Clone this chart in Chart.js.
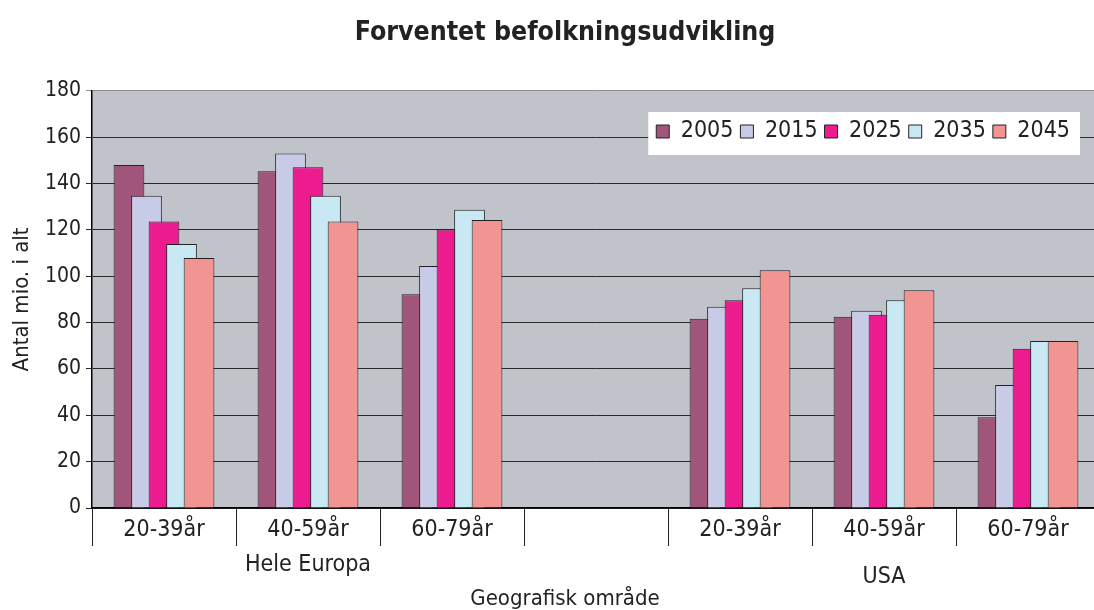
<!DOCTYPE html>
<html>
<head>
<meta charset="utf-8">
<script src="https://cdn.jsdelivr.net/npm/chart.js@4/dist/chart.umd.min.js"></script>
<style>
  html, body { margin: 0; padding: 0; background: #fff; overflow: hidden; }
  canvas { display: block; }
</style>
</head>
<body>
<canvas id="chart" width="1130" height="610"></canvas>
<script>
const FONT = "'DejaVu Sans Condensed', 'Liberation Sans Narrow', 'DejaVu Sans', sans-serif";

const categories = ['20-39år', '40-59år', '60-79år', '', '20-39år', '40-59år', '60-79år'];
const groupLabels = ['Hele Europa', 'USA'];
const years = ['2005', '2015', '2025', '2035', '2045'];
const yTicks = [0, 180, 20];

const v2005 = [148, 145.3, 92.2, null, 81.6, 82.5, 39.1];
const v2015 = [134.7, 153, 104.4, null, 86.8, 85.1, 53.1];
const v2025 = [123.6, 147, 120.2, null, 89.6, 83.4, 68.7];
const v2035 = [113.9, 134.7, 128.7, null, 94.8, 89.6, 72.1];
const v2045 = [107.9, 123.6, 124.3, null, 102.6, 93.9, 72.1];

const colors = ['#a2557b', '#c8cbe7', '#ec1c8f', '#c8e8f3', '#f19593'];
const series = [v2005, v2015, v2025, v2035, v2045];

// gray plot background
const plotBg = {
  id: 'plotBg',
  beforeDraw(chart) {
    const a = chart.chartArea, ctx = chart.ctx;
    ctx.save();
    ctx.fillStyle = '#c0c3ca';
    ctx.fillRect(a.left, a.top, a.width, a.height);
    ctx.restore();
  }
};

// draw datasets first-to-last so later years sit on top (excel overlap)
const forwardDraw = {
  id: 'forwardDraw',
  beforeDatasetsDraw(chart) {
    const a = chart.chartArea, ctx = chart.ctx;
    chart.getSortedVisibleDatasetMetas().forEach(meta => {
      ctx.save();
      ctx.beginPath();
      ctx.rect(a.left, a.top, a.width, a.height);
      ctx.clip();
      meta.controller.draw();
      ctx.restore();
    });
    return false;
  }
};

// move the legend into the plot, on a white box
const legendBox = {
  id: 'legendBox',
  afterLayout(chart) {
    const lg = chart.legend;
    const dx = 1077 - lg.right, dy = 113 - lg.top;
    lg.left += dx; lg.right += dx;
    lg.top += dy; lg.bottom += dy;
  },
  afterDraw(chart) {
    const lg = chart.legend, ctx = chart.ctx;
    const pad = lg.options.labels.padding;
    const size = lg.options.labels.font.size;
    const x0 = lg.right - lg.lineWidths[0] - 8;
    const x1 = lg.right - pad + 10;
    const rowTop = lg.top + pad;
    ctx.save();
    ctx.fillStyle = '#fff';
    ctx.fillRect(x0, rowTop - 8, x1 - x0, size + 20);
    ctx.restore();
    lg.draw();
  }
};

new Chart(document.getElementById('chart'), {
  type: 'bar',
  data: {
    labels: categories,
    datasets: years.map((y, i) => ({
      label: y,
      data: series[i],
      xAxisID: 'x',
      backgroundColor: colors[i],
      borderColor: '#222',
      borderWidth: 1,
      categoryPercentage: 0.608,
      barPercentage: 1.754
    }))
  },
  options: {
    responsive: false,
    animation: false,
    layout: { padding: { left: 30, right: 30, top: 0, bottom: 0 } },
    plugins: {
      title: {
        display: true,
        text: 'Forventet befolkningsudvikling',
        color: '#222',
        font: { family: FONT, size: 26.5, weight: 'bold', lineHeight: 1.2 },
        padding: { top: 17, bottom: 2 }
      },
      subtitle: {
        display: true,
        position: 'bottom',
        text: 'Geografisk område',
        color: '#222',
        font: { family: FONT, size: 22, lineHeight: 1 },
        padding: { top: 2, bottom: 0 }
      },
      legend: {
        position: 'top',
        align: 'end',
        labels: {
          boxWidth: 13,
          boxHeight: 13,
          padding: 7,
          color: '#222',
          font: { family: FONT, size: 23 }
        }
      },
      tooltip: { enabled: false }
    },
    scales: {
      x: {
        type: 'category',
        position: 'bottom',
        weight: 0,
        offset: true,
        grid: { display: true, drawOnChartArea: false, offset: true, tickLength: 38, color: '#222' },
        border: { color: '#000', width: 1.5 },
        ticks: { padding: -30, color: '#222', maxRotation: 0, autoSkip: false, font: { family: FONT, size: 23 } },
        afterFit: s => { s.height = 40; }
      },
      x2: {
        type: 'linear',
        position: 'bottom',
        weight: 1,
        offset: false,
        bounds: 'data',
        min: -0.5,
        max: 6.5,
        grid: { display: false },
        border: { display: false },
        afterBuildTicks: s => { s.ticks = [{ value: 1 }, { value: 5 }]; },
        ticks: {
          padding: -7,
          color: '#222',
          maxRotation: 0,
          autoSkip: false,
          callback: v => v === 1 ? groupLabels[0] : ['', groupLabels[1]],
          font: ctx => ({ family: FONT, size: 23, lineHeight: ctx.index === 0 ? '32px' : '19px' })
        },
        afterFit: s => { s.height = 38; }
      },
      y: {
        min: yTicks[0],
        max: yTicks[1],
        ticks: { stepSize: yTicks[2], padding: 5, color: '#222', font: { family: FONT, size: 21 } },
        grid: {
          color: ctx => ctx.tick && ctx.tick.value === 180 ? '#8c8c8c' : '#2a2a2a',
          lineWidth: 1,
          tickLength: 6
        },
        border: { color: '#000', width: 1.5 },
        title: {
          display: true,
          text: 'Antal mio. i alt',
          color: '#222',
          font: { family: FONT, size: 22, lineHeight: 1 },
          padding: { top: -19, bottom: 0 }
        },
        afterFit: s => { s.width = 62; }
      }
    }
  },
  plugins: [plotBg, forwardDraw, legendBox]
});
</script>
</body>
</html>
